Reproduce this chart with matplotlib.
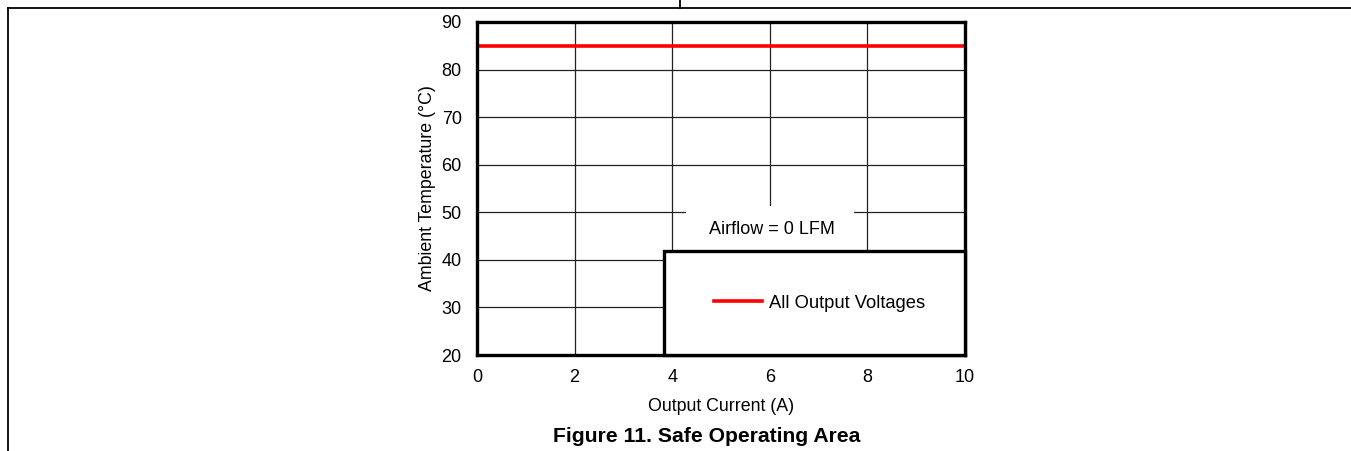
import matplotlib
matplotlib.use("Agg")
import matplotlib.pyplot as plt
from matplotlib.lines import Line2D
from matplotlib.patches import Rectangle

plt.rcParams['font.family'] = ['Liberation Sans', 'DejaVu Sans']

# data
current = [0, 10]
temperature = [85, 85]
series_label = "All Output Voltages"
x_ticks = [0, 2, 4, 6, 8, 10]
y_ticks = [20, 30, 40, 50, 60, 70, 80, 90]

W, H = 1351, 451
fig = plt.figure(figsize=(W / 100, H / 100), dpi=100)
ax = fig.add_axes([477 / W, 1 - 355 / H, (965 - 477) / W, (355 - 22) / H])

ax.set_xlim(0, 10)
ax.set_ylim(20, 90)
ax.set_xticks(x_ticks)
ax.set_yticks(y_ticks)
ax.tick_params(length=0, labelsize=13, pad=10)
ax.tick_params(axis='y', pad=11)
ax.grid(True, color='#222222', lw=0.9)
ax.set_axisbelow(True)
for s in ax.spines.values():
    s.set_linewidth(2.4)
    s.set_color('black')

ax.plot(current, temperature, color='red', lw=2.6, label=series_label, zorder=2)

ax.set_xlabel("Output Current (A)", fontsize=12.8, labelpad=9)
ax.set_ylabel("Ambient Temperature (°C)", fontsize=12.8, labelpad=4)

# white patch behind the airflow note
ax.add_patch(Rectangle((4.28, 42), 3.45, 9.3, facecolor='white', edgecolor='none', zorder=3))
ax.text(6.05, 46.4, "Airflow = 0 LFM", ha='center', va='center', fontsize=13, zorder=4)

# legend box
ax.add_patch(Rectangle((3.83, 20), 6.17, 21.9, facecolor='white', edgecolor='black',
                       lw=2.4, zorder=3, clip_on=False))
leg = ax.legend(loc='center', bbox_to_anchor=(7.02, 30.9), bbox_transform=ax.transData,
                frameon=False, fontsize=13.2, handlelength=2.6, handletextpad=0.4)
leg.set_zorder(5)

# page frame lines
fig.add_artist(Line2D([8 / W, 1], [1 - 8 / H, 1 - 8 / H], color='black', lw=1.3))
fig.add_artist(Line2D([8 / W, 8 / W], [0, 1 - 8 / H], color='black', lw=1.3))
fig.add_artist(Line2D([680 / W, 680 / W], [1 - 8 / H, 1], color='black', lw=1.3))

fig.text(707 / W, 1 - 436 / H, "Figure 11. Safe Operating Area", ha='center', va='center',
         fontsize=15.2, fontweight='bold')

fig.savefig("out.png", dpi=100)
